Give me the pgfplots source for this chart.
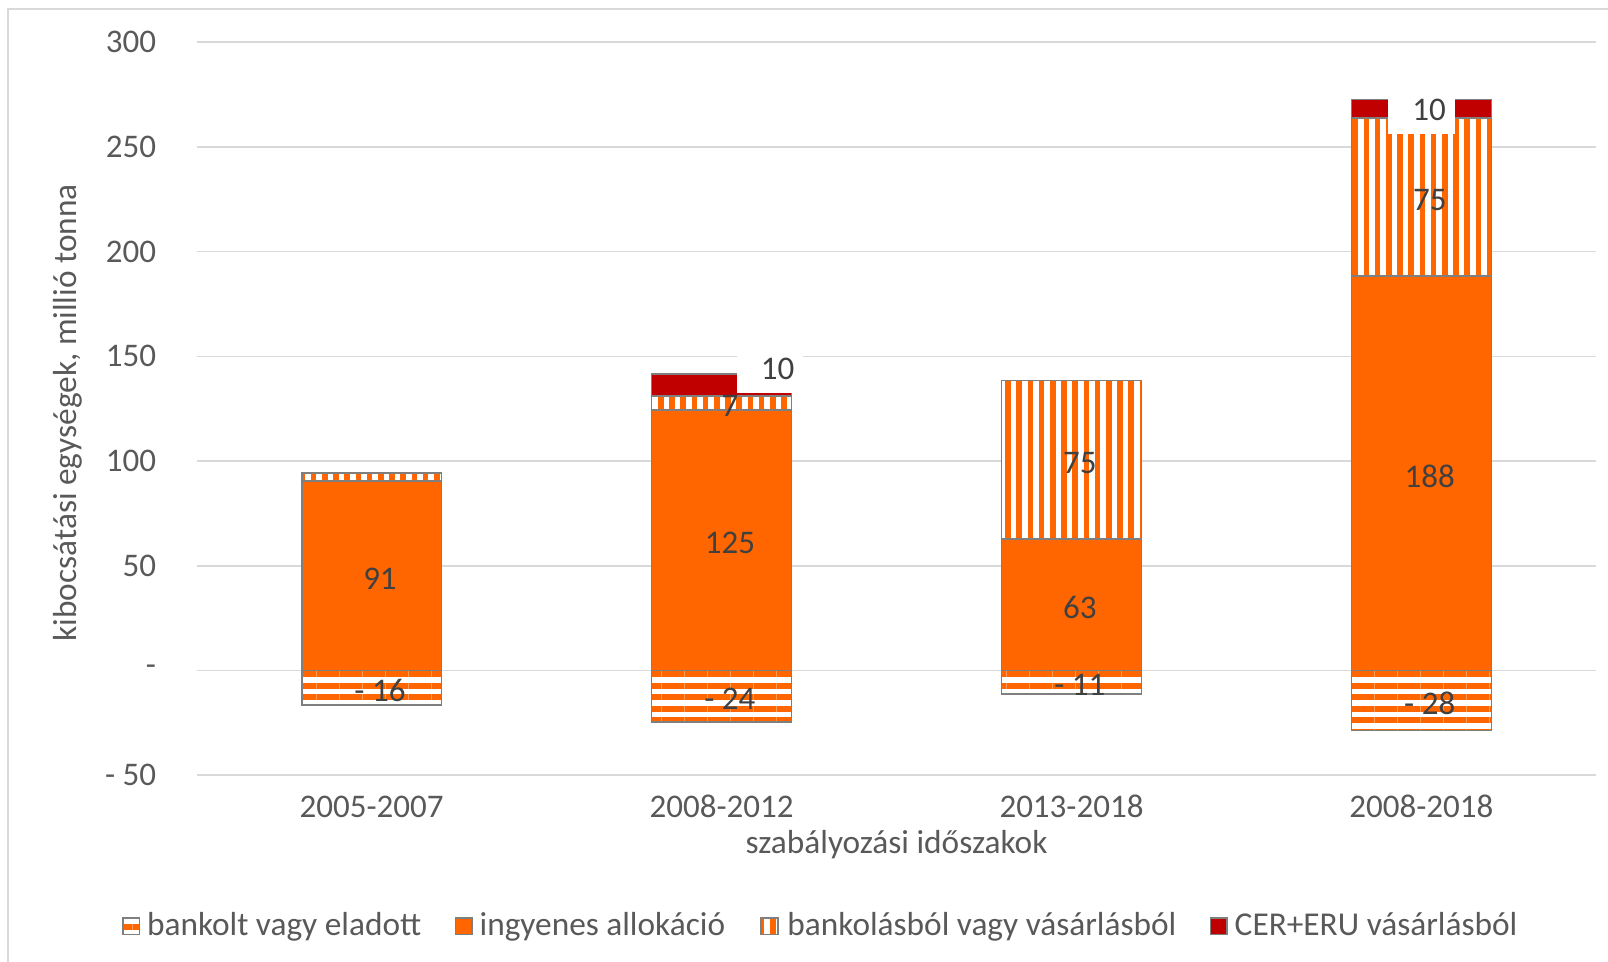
\documentclass[border=0pt]{standalone}
\usepackage{fontspec}
\setmainfont{Carlito}
\usepackage{pgfplots}
\pgfplotsset{compat=1.18}
\usetikzlibrary{patterns.meta}

\definecolor{orng}{RGB}{255,102,0}
\definecolor{cred}{RGB}{192,0,0}
\definecolor{bord}{RGB}{127,127,127}
\definecolor{grd}{RGB}{217,217,217}
\definecolor{txt}{RGB}{89,89,89}
\definecolor{lbl}{RGB}{64,64,64}
\newcommand\fs{\fontsize{10pt}{12pt}\selectfont}
\newcommand\fsn{\fontsize{9.9pt}{12pt}\selectfont}

\tikzset{dl/.style={font=\fsn, text=lbl, xshift=2.5pt, yshift=-0.9pt},
         boxlbl/.style={font=\fsn, text=lbl, fill=white, inner ysep=0pt, inner xsep=2.7pt,
                        text width=14.6pt, align=right, minimum height=14.2pt}}
\pgfplotsset{
  sq/.style={legend image code/.code={\draw[##1] (-2.2pt,-2.5pt) rectangle (2.8pt,2.5pt);}},
  segm/.style={draw=bord, line width=0.5pt, sq},
  hstripes/.style={segm, preaction={fill=white}, pattern={Lines[angle=0,distance=3.45pt,line width=1.8pt]}, pattern color=orng},
  vstripes/.style={segm, preaction={fill=white}, pattern={Lines[angle=90,distance=3.36pt,line width=1.7pt]}, pattern color=orng},
  geom/.style={scale only axis, width=419.9pt, height=219.9pt,
    at={(0,0)}, anchor=south west,
    xmin=-0.5, xmax=3.5, ymin=-50, ymax=300,
    ybar stacked, bar width=0.4},
}

\begin{document}
\begin{tikzpicture}
% negative part, grid, ticks and legend
\begin{axis}[geom,
  xtick={0,1,2,3}, xticklabels={2005-2007,2008-2012,2013-2018,2008-2018},
  ytick={-50,0,50,100,150,200,250,300},
  yticklabels={- 50,-,50,100,150,200,250,300},
  ymajorgrids, grid style={grd, line width=0.45pt},
  axis line style={draw=none}, major tick length=0pt,
  tick label style={font=\fsn, text=txt},
  yticklabel style={anchor=east, inner sep=0pt, xshift=-12pt},
  xticklabel style={anchor=base, inner sep=0pt, yshift=-12.7pt},
  xlabel={szabályozási időszakok},
  xlabel style={font=\fs, text=txt, at={(axis description cs:0.5,0)}, anchor=base, inner sep=0pt, yshift=-23.4pt},
  ylabel={kibocsátási egységek, millió tonna},
  ylabel style={font=\fs, text=txt, at={(axis description cs:-0.0857,0.4944)}, anchor=base, inner sep=0pt},
  legend columns=4,
  legend style={at={(0.4475,-0.206)}, anchor=center, draw=none, fill=none, font=\fs, text=txt,
                /tikz/every even column/.append style={column sep=8.0pt}},
]
\addplot[hstripes] coordinates {(0,-16.4) (1,-24.6) (2,-11.1) (3,-28.7)};
\addlegendentry{bankolt vagy eladott}
\addlegendimage{segm, fill=orng}
\addlegendentry{ingyenes allokáció}
\addlegendimage{vstripes}
\addlegendentry{bankolásból vagy vásárlásból}
\addlegendimage{segm, fill=cred}
\addlegendentry{CER+ERU vásárlásból}
\end{axis}
% positive stacked part
\begin{axis}[geom, hide axis]
\addplot[segm, fill=orng] coordinates {(0,90.5) (1,124.5) (2,62.8) (3,188.2)};
\addplot[vstripes] coordinates {(0,3.9) (1,6.6) (2,75.6) (3,75.6)};
\addplot[segm, fill=cred] coordinates {(0,0) (1,10.4) (2,0) (3,8.9)};
\end{axis}
% data labels on top
\begin{axis}[geom, hide axis]
\node[dl] at (axis cs:0,45.2) {91};
\node[dl] at (axis cs:0,-8.2) {- 16};
\node[dl] at (axis cs:1,62.2) {125};
\node[dl] at (axis cs:1,127.8) {7};
\node[dl] at (axis cs:1,-12.3) {- 24};
\node[dl] at (axis cs:2,100.6) {75};
\node[dl] at (axis cs:2,31.4) {63};
\node[dl] at (axis cs:2,-5.5) {- 11};
\node[dl] at (axis cs:3,94.1) {188};
\node[dl] at (axis cs:3,226) {75};
\node[dl] at (axis cs:3,-14.4) {- 28};
\node[boxlbl] at (axis cs:1.1385,143.9) {10};
\node[boxlbl] at (axis cs:3.0,267.5) {10};
\end{axis}
\pgfresetboundingbox
\useasboundingbox (-59.01pt,-56.04pt) rectangle (423.39pt,232.56pt);
\draw[grd, line width=0.6pt] (-56.6pt,-80pt) -- (-56.6pt,229.9pt) -- (460pt,229.9pt);
\end{tikzpicture}
\end{document}
